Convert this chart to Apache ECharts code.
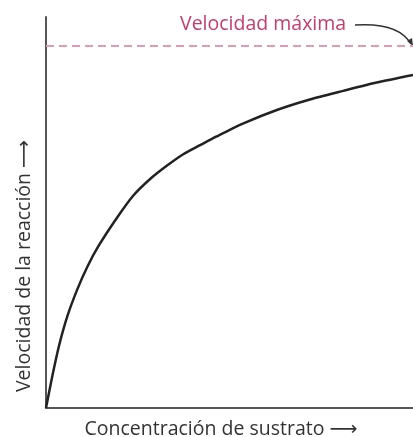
<!DOCTYPE html>
<html>
<head>
<meta charset="utf-8">
<script src="https://cdn.jsdelivr.net/npm/echarts@6/dist/echarts.min.js"></script>
<style>
  html, body { margin: 0; padding: 0; background: #fff; }
  #myChart { width: 413px; height: 437px; }
</style>
</head>
<body>
<div id="myChart"></div>
<script>
// Substrate concentration (x) and reaction rate (y)
const concentracion = [0, 1.7, 3.5, 5.8, 8.5, 11.3, 14.4, 19.3, 23.8, 28.3, 32.9, 37.4, 42.0, 46.5, 53.8, 62.9, 71.9, 81.0, 90.1, 100];
const velocidad = [0, 8.7, 17.0, 25.3, 32.7, 39.1, 44.9, 52.5, 58.7, 63.2, 66.9, 70.1, 72.6, 75.0, 78.6, 82.3, 85.2, 87.6, 89.9, 92.0];
const vMax = 100;

const FONT = "'Open Sans', 'DejaVu Sans', sans-serif";

let myChart = echarts.init(document.getElementById("myChart"));

let option = {
  animation: false,
  grid: { left: 46, right: 0, top: 17, bottom: 29 },
  xAxis: {
    type: "value",
    min: 0,
    max: 100,
    axisLine: { show: true, lineStyle: { color: "#555", width: 2 } },
    axisTick: { show: false },
    axisLabel: { show: false },
    splitLine: { show: false },
  },
  yAxis: {
    type: "value",
    min: 0,
    max: 108,
    axisLine: { show: true, lineStyle: { color: "#555", width: 2 } },
    axisTick: { show: false },
    axisLabel: { show: false },
    splitLine: { show: false },
  },
  series: [
    {
      type: "line",
      data: concentracion.map((c, i) => [c, velocidad[i]]),
      smooth: 0.25,
      symbol: "none",
      lineStyle: { color: "#222", width: 2.5 },
      markLine: {
        silent: true,
        symbol: "none",
        label: { show: false },
        lineStyle: { color: "#e39ab1", width: 2, type: [8, 5] },
        data: [{ yAxis: vMax }],
      },
    },
  ],
  graphic: [
    {
      type: "text",
      x: 180,
      y: 24,
      style: { text: "Velocidad máxima", fill: "#c83c68", font: "19.5px " + FONT, verticalAlign: "middle" },
    },
    {
      type: "bezierCurve",
      shape: { x1: 355, y1: 25, x2: 411, y2: 44, cpx1: 385, cpy1: 23, cpx2: 403, cpy2: 30 },
      style: { stroke: "#333", lineWidth: 1.5, fill: null },
    },
    {
      type: "polygon",
      shape: { points: [[407, 41], [413, 46], [412, 38]] },
      style: { fill: "#333" },
    },
    {
      type: "text",
      x: 24,
      y: 266,
      rotation: Math.PI / 2,
      style: {
        text: "Velocidad de la reacción ⟶",
        fill: "#333",
        font: "19.5px " + FONT,
        align: "center",
        verticalAlign: "middle",
      },
    },
    {
      type: "text",
      x: 221,
      y: 429,
      style: {
        text: "Concentración de sustrato ⟶",
        fill: "#333",
        font: "19.5px " + FONT,
        align: "center",
        verticalAlign: "middle",
      },
    },
  ],
};

myChart.setOption(option);
</script>
</body>
</html>
